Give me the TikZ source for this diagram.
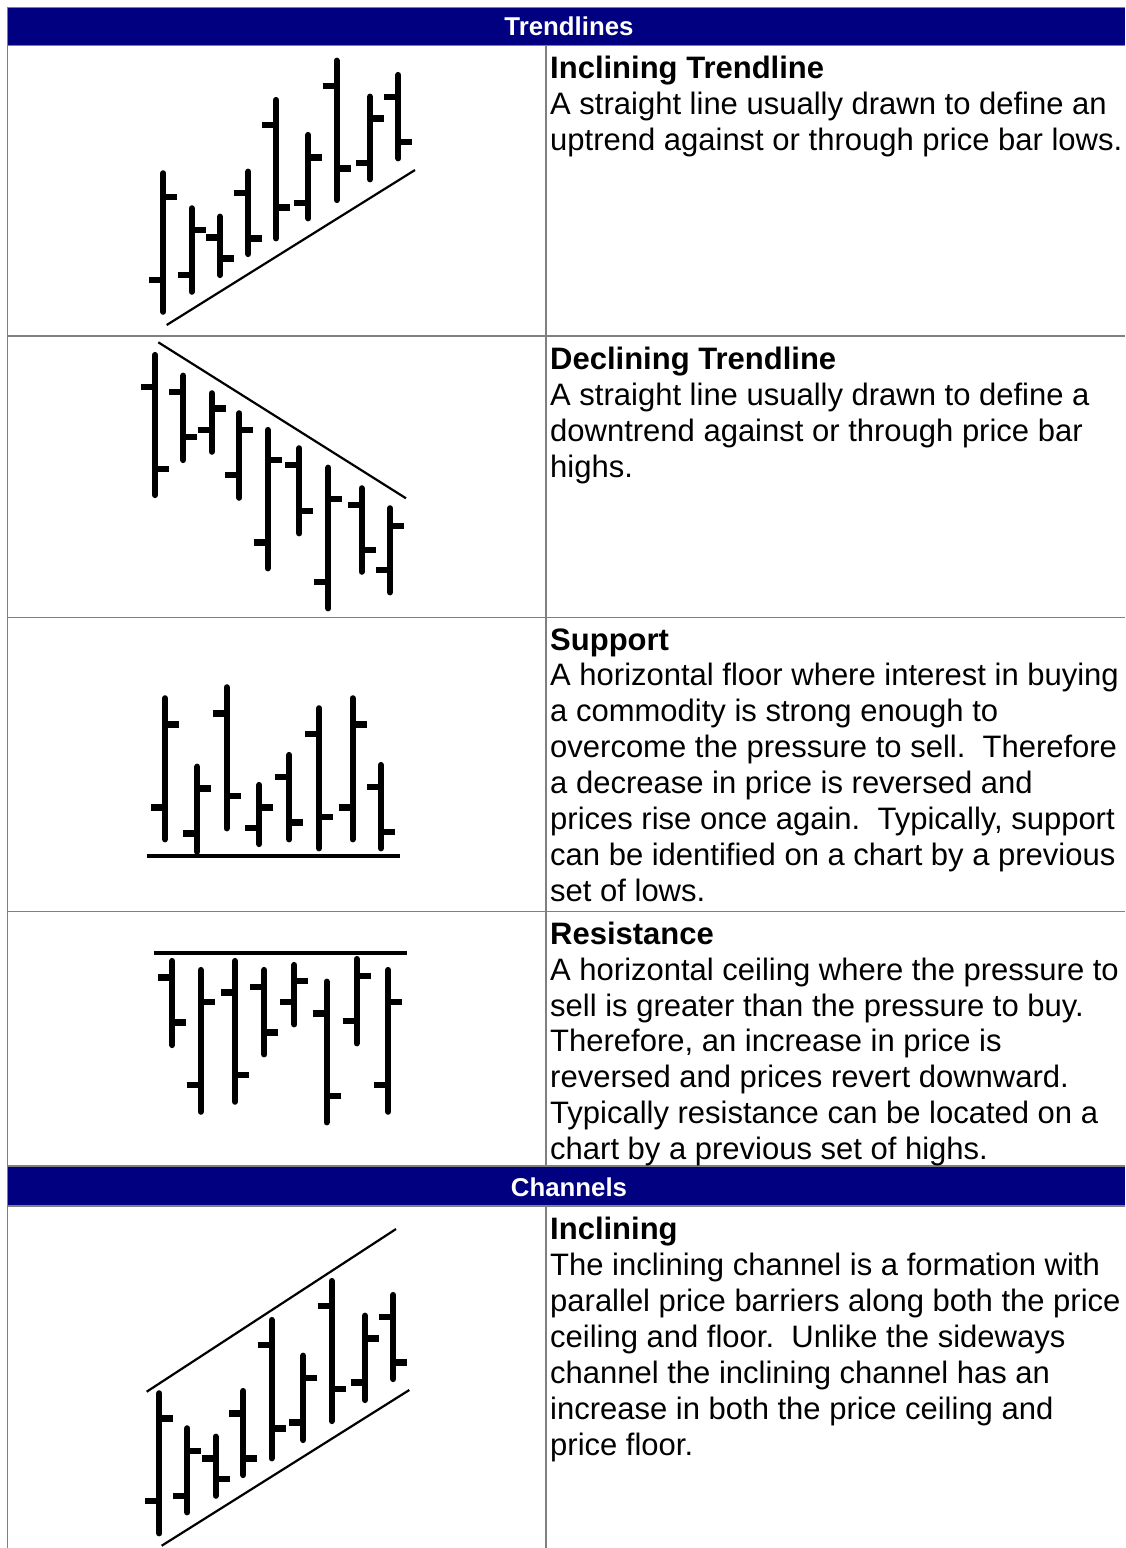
\documentclass[tikz,border=0pt]{standalone}
\usepackage{fontspec}
\setmainfont{Liberation Sans}
\definecolor{hdrblue}{HTML}{000080}
\definecolor{gridgray}{HTML}{808080}
\tikzset{
  bar/.style={line width=6.2pt, line cap=round},
  tickmark/.style={line width=6.4pt, line cap=butt},
  trend/.style={line width=2.2pt},
  level/.style={line width=3.6pt},
  grid/.style={draw=gridgray, line width=1.4pt},
  hdr/.style={text=white, font=\fontsize{25.8}{30}\selectfont\bfseries, inner sep=0pt, anchor=base},
  ttl/.style={font=\fontsize{31}{36}\selectfont\bfseries, inner sep=0pt, anchor=base west},
  body/.style={font=\fontsize{31}{36}\selectfont, inner sep=0pt, anchor=base west},
}
\begin{document}
\begin{tikzpicture}[x=1pt,y=-1pt]
\useasboundingbox (0,0) rectangle (1125,1548);
\fill[white] (0,0) rectangle (1125,1548);
% headers
\fill[hdrblue] (7.7,7.5) rectangle (1125,44.6);
\fill[hdrblue] (7.7,1166.5) rectangle (1125,1205.5);
\node[hdr] (h1) at (569,35.5) {Trendlines};
\node[hdr] (h2) at (569,1196.5) {Channels};
% grid
\draw[grid] (7.7,7.5) -- (1125,7.5);
\draw[grid] (7.7,45.3) -- (1125,45.3);
\draw[grid] (7.7,7) -- (7.7,1548);
\draw[grid] (546,45.3) -- (546,1166);
\draw[grid] (546,1206) -- (546,1548);
\foreach \yy in {336,617.7,911.7,1166,1206}
  \draw[grid] (7.7,\yy) -- (1125,\yy);
% chart 1: inclining trendline
\foreach \x/\t/\b/\l/\r in {163.3/173.3/311.7/280/196.7, 191.7/208.3/291.7/275/230, 220/216.7/275/237.3/258.3, 248.3/171.7/254/192.7/238.3, 276/100/238.3/125/207.3, 308.3/135/218.3/202.7/157.3, 336.7/60.7/200/86/168.3, 370/96.7/179.3/162.7/118.3, 398.3/75/158.3/96.7/141.7}{
  \draw[bar] (\x,\t) -- (\x,\b);
  \draw[tickmark] (\x-14,\l) -- (\x,\l);
  \draw[tickmark] (\x,\r) -- (\x+14,\r);
}
\draw[trend] (166.7,325) -- (415,170);
% chart 2: declining trendline
\foreach \x/\t/\b/\l/\r in {155/355/495/386.7/469, 183.3/375.7/460/391.7/436.7, 211.7/393.3/451.7/430/408.3, 239.3/413.3/497.7/475/430, 267.7/430/568.3/542.3/460, 299.3/448.3/533.3/465/510.7, 328.3/467.7/608.3/581.7/499, 361.7/488.3/571.7/505/550, 390/508.3/592.3/570/525.7}{
  \draw[bar] (\x,\t) -- (\x,\b);
  \draw[tickmark] (\x-14,\l) -- (\x,\l);
  \draw[tickmark] (\x,\r) -- (\x+14,\r);
}
\draw[trend] (158.3,342.3) -- (406,498.3);
% chart 3: support
\foreach \x/\t/\b/\l/\r in {165/698.3/839.3/807.3/724.3, 197.3/766.7/851.7/833.3/788.3, 226.7/687.3/828.3/713.3/796, 259.3/785/844/827.7/807.3, 289.3/755/839.3/776.7/822.3, 319/708.3/848.3/734/816.7, 352.7/698.3/839.3/807.3/724.3, 381/765/848.3/786.7/831.7}{
  \draw[bar] (\x,\t) -- (\x,\b);
  \draw[tickmark] (\x-14,\l) -- (\x,\l);
  \draw[tickmark] (\x,\r) -- (\x+14,\r);
}
\draw[level] (146.7,856) -- (400,856);
% chart 4: resistance
\foreach \x/\t/\b/\l/\r in {172.3/961/1045/977.3/1022.3, 200.7/970/1111.7/1085/1001.7, 235/961/1101.7/992.3/1075, 264.3/970/1054.3/986.7/1032.3, 294.3/965/1024.3/1001.7/981, 326.7/981.7/1122.3/1013.3/1096, 356.7/959/1043.3/1021/975.7, 388.3/970/1111.7/1085/1001.7}{
  \draw[bar] (\x,\t) -- (\x,\b);
  \draw[tickmark] (\x-14,\l) -- (\x,\l);
  \draw[tickmark] (\x,\r) -- (\x+14,\r);
}
\draw[level] (154,952.7) -- (407.3,952.7);
% chart 5: inclining channel
\foreach \x/\t/\b/\l/\r in {159.3/1393.3/1533.3/1501/1418.3, 187.3/1428.3/1512.3/1495.7/1451, 215.7/1436.7/1495.7/1458.3/1479, 243.3/1391/1475/1413.3/1458.3, 271.7/1320/1458.3/1345/1428.3, 303.3/1355.7/1440/1422.3/1377.7, 331.7/1281/1421/1305.7/1389, 365/1315.7/1400/1382.3/1338.3, 393.3/1295/1379/1316.7/1362.3}{
  \draw[bar] (\x,\t) -- (\x,\b);
  \draw[tickmark] (\x-14,\l) -- (\x,\l);
  \draw[tickmark] (\x,\r) -- (\x+14,\r);
}
\draw[trend] (146.7,1391.7) -- (396,1229);
\draw[trend] (161.7,1545.7) -- (409.3,1390);
% texts
\node[ttl] (t1) at (550,78) {Inclining Trendline};
\foreach \s [count=\i] in {{A straight line usually drawn to define an},{uptrend against or through price bar lows.}}
  \node[body] (b1-\i) at (550,78+36*\i) {\s};
\node[ttl] (t2) at (550,369) {Declining Trendline};
\foreach \s [count=\i] in {{A straight line usually drawn to define a},{downtrend against or through price bar},{highs.}}
  \node[body] (b2-\i) at (550,369+36*\i) {\s};
\node[ttl] (t3) at (550,650) {Support};
\foreach \s [count=\i] in {{A horizontal floor where interest in buying},{a commodity is strong enough to},{overcome the pressure to sell.\ \ Therefore},{a decrease in price is reversed and},{prices rise once again.\ \ Typically, support},{can be identified on a chart by a previous},{set of lows.}}
  \node[body] (b3-\i) at (550,650+35.9*\i) {\s};
\node[ttl] (t4) at (550,944.5) {Resistance};
\foreach \s [count=\i] in {{A horizontal ceiling where the pressure to},{sell is greater than the pressure to buy.},{Therefore, an increase in price is},{reversed and prices revert downward.},{Typically resistance can be located on a},{chart by a previous set of highs.}}
  \node[body] (b4-\i) at (550,944.5+35.8*\i) {\s};
\node[ttl] (t5) at (550,1239) {Inclining};
\foreach \s [count=\i] in {{The inclining channel is a formation with},{parallel price barriers along both the price},{ceiling and floor.\ \ Unlike the sideways},{channel the inclining channel has an},{increase in both the price ceiling and},{price floor.}}
  \node[body] (b5-\i) at (550,1239+36*\i) {\s};
\end{tikzpicture}
\end{document}
